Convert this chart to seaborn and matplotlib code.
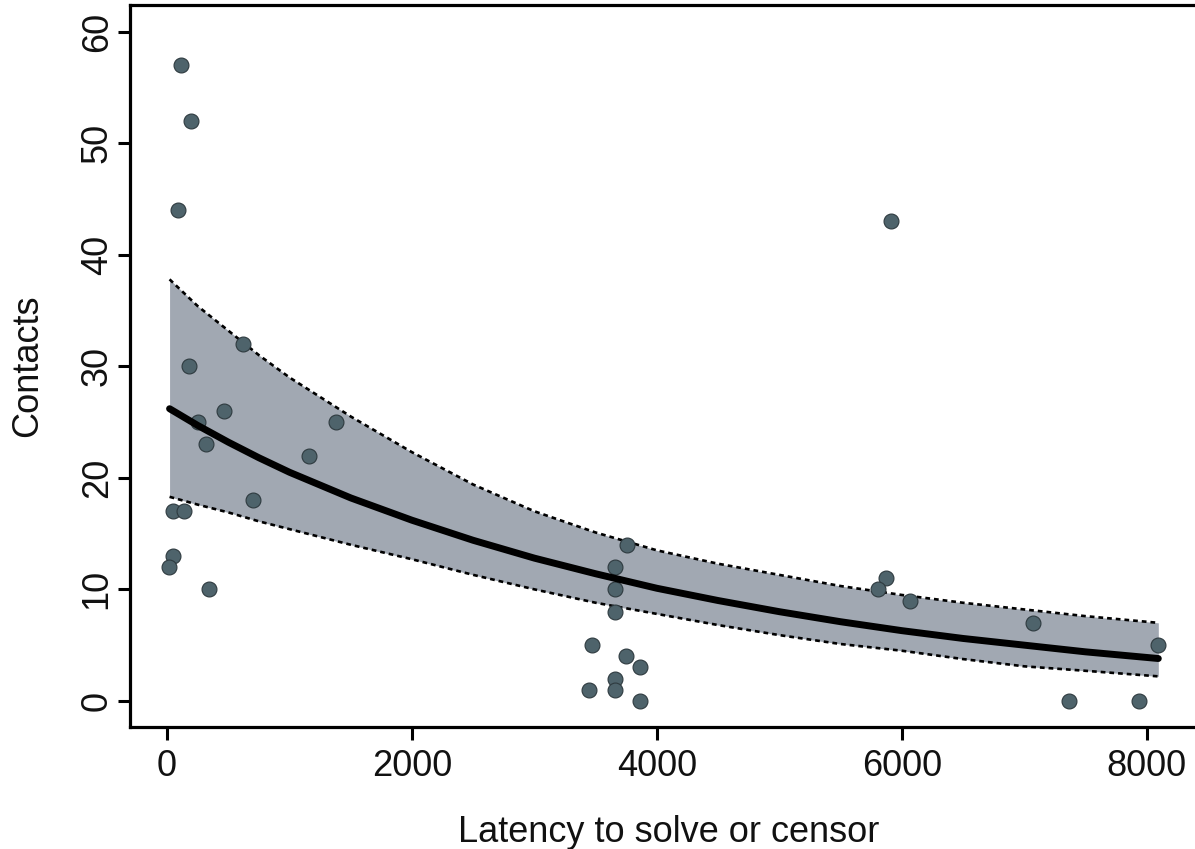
import matplotlib
matplotlib.use("Agg")
import matplotlib.pyplot as plt
import seaborn as sns
import pandas as pd

# ---- data ----
latency = [114, 198, 87, 620, 176, 462, 253, 321, 1382, 1162, 699, 49, 141, 46, 19, 345,
           3752, 3660, 3660, 3660, 3469, 3750, 3863, 3660, 3442, 3660, 3863,
           5869, 5804, 5912, 6070, 7074, 8095, 7368, 7937]
contacts = [57, 52, 44, 32, 30, 26, 25, 23, 25, 22, 18, 17, 17, 13, 12, 10,
            14, 12, 10, 8, 5, 4, 3, 2, 1, 1, 0,
            11, 10, 43, 9, 7, 5, 0, 0]

fit_x = [20, 250, 500, 750, 1000, 1500, 2000, 2500, 3000, 3500, 4000,
         4500, 5000, 5500, 6000, 6500, 7000, 7500, 8095]
fit_y = [26.2, 24.7, 23.2, 21.8, 20.5, 18.2, 16.2, 14.4, 12.8, 11.4, 10.1,
         9.0, 8.0, 7.1, 6.3, 5.6, 5.0, 4.4, 3.8]
fit_hi = [37.8, 35.4, 33.2, 31.0, 29.0, 25.5, 22.3, 19.4, 17.0, 15.1, 13.5,
          12.3, 11.3, 10.3, 9.5, 8.8, 8.2, 7.6, 7.0]
fit_lo = [18.3, 17.6, 16.9, 16.1, 15.4, 14.0, 12.7, 11.3, 10.0, 8.8, 7.8,
          6.8, 5.9, 5.1, 4.5, 3.75, 3.1, 2.7, 2.2]

x_ticks = [0, 2000, 4000, 6000, 8000]
y_ticks = [0, 10, 20, 30, 40, 50, 60]

pts = pd.DataFrame({"Latency": latency, "Contacts": contacts})
fit = pd.DataFrame({"x": fit_x, "y": fit_y, "lo": fit_lo, "hi": fit_hi})

sns.set_theme(style="ticks")
plt.rcParams["font.family"] = ["Liberation Sans", "DejaVu Sans"]

fig = plt.figure(figsize=(11.95, 8.49), dpi=100)
ax = fig.add_axes([0.1088, 0.1437, 0.902, 0.8504])

ax.fill_between(fit["x"], fit["lo"], fit["hi"], color="#A1A8B2", lw=0, zorder=1)
sns.lineplot(data=fit, x="x", y="hi", ax=ax, color="black", lw=1.9,
             linestyle=(0, (1.8, 1.5)), zorder=2)
sns.lineplot(data=fit, x="x", y="lo", ax=ax, color="black", lw=1.9,
             linestyle=(0, (1.8, 1.5)), zorder=2)
sns.scatterplot(data=pts, x="Latency", y="Contacts", ax=ax, s=115,
                color="#4E636B", edgecolor="#2E3A3F", linewidth=0.8, zorder=3)
sns.lineplot(data=fit, x="x", y="y", ax=ax, color="black", lw=5, zorder=4)

ax.set_xlim(-303, 8500)
ax.set_ylim(-2.34, 62.4)
ax.set_xticks(x_ticks)
ax.set_yticks(y_ticks)
ax.set_xticklabels([str(v) for v in x_ticks])
ax.set_yticklabels([str(v) for v in y_ticks], rotation=90, va="center")

for s in ["left", "bottom", "top"]:
    ax.spines[s].set_linewidth(2.3)
    ax.spines[s].set_color("black")
ax.spines["right"].set_visible(False)

ax.tick_params(axis="both", length=9, width=2.2, color="black",
               labelsize=26, labelcolor="#111111")
ax.tick_params(axis="x", pad=7)
ax.tick_params(axis="y", pad=2)

ax.set_xlabel("Latency to solve or censor", fontsize=26, labelpad=22, color="#111111")
ax.set_ylabel("Contacts", fontsize=26, labelpad=25, color="#111111")

fig.savefig("out.png", dpi=100)
